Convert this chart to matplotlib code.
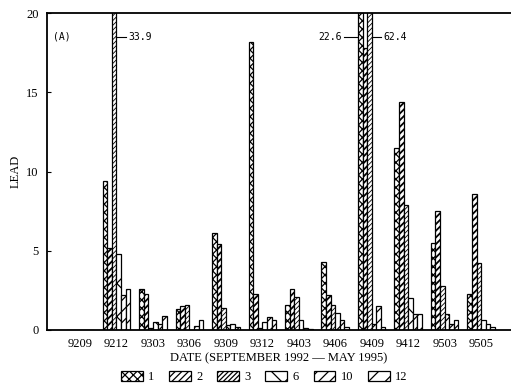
import matplotlib
matplotlib.use("Agg")
import matplotlib.pyplot as plt
import numpy as np

# Sampling dates (YYMM) and lead values per sampling-site series
dates = ["9209", "9212", "9303", "9306", "9309", "9312",
         "9403", "9406", "9409", "9412", "9503", "9505"]
series_names = ["1", "2", "3", "6", "10", "12"]
lead_1 = [0, 9.4, 2.6, 1.3, 6.1, 18.2, 1.6, 4.3, 22.6, 11.5, 5.5, 2.3]
lead_2 = [0, 5.2, 2.3, 1.5, 5.4, 2.3, 2.6, 2.2, 17.8, 14.4, 7.5, 8.6]
lead_3 = [0, 33.9, 0.1, 1.6, 1.4, 0.1, 2.1, 1.6, 62.4, 7.9, 2.8, 4.2]
lead_6 = [0, 4.8, 0.5, 0.0, 0.3, 0.5, 0.6, 1.1, 0.4, 2.0, 1.0, 0.6]
lead_10 = [0, 2.2, 0.4, 0.25, 0.4, 0.8, 0.1, 0.6, 1.5, 1.0, 0.4, 0.4]
lead_12 = [0, 2.6, 0.9, 0.6, 0.2, 0.6, 0.05, 0.2, 0.2, 1.0, 0.6, 0.2]
all_series = [lead_1, lead_2, lead_3, lead_6, lead_10, lead_12]

hatches = ["xxxx", "/////", "///////", "x", "///", "//"]
hatch_widths = [0.9, 1.3, 0.6, 0.9, 0.9, 0.9]

serif = "Liberation Serif"
mono = "DejaVu Sans Mono"

fig = plt.figure(figsize=(5.11, 3.89), dpi=100)
ax = fig.add_axes([47 / 511, 1 - 330 / 389, 1 - 47 / 511, (330 - 13) / 389])

x = np.arange(len(dates))
w = 0.126
bars = []
for k, (vals, h, hw) in enumerate(zip(all_series, hatches, hatch_widths)):
    plt.rcParams["hatch.linewidth"] = hw
    b = ax.bar(x + (k - 2.5) * w, vals, width=w, facecolor="white",
               edgecolor="black", linewidth=0.9, hatch=h, label=series_names[k])
    for p in b:
        if hasattr(p, "set_hatch_linewidth"):
            p.set_hatch_linewidth(hw)
    bars.append(b)

ax.set_xlim(-0.905, 11.82)
ax.set_ylim(0, 20)
ax.set_yticks([0, 5, 10, 15, 20])
ax.set_yticklabels(["0", "5", "10", "15", "20"], fontfamily=serif, fontsize=9)
ax.set_xticks(x)
ax.set_xticklabels(dates, fontfamily=serif, fontsize=9)
ax.tick_params(axis="y", direction="in", length=3, width=0.8, pad=6)
ax.tick_params(axis="x", length=0, pad=6)
ax.spines["right"].set_visible(False)
for s in ["left", "top", "bottom"]:
    ax.spines[s].set_linewidth(1.3)

ax.set_ylabel("LEAD", fontfamily=serif, fontsize=9, labelpad=3)
ax.set_xlabel("DATE (SEPTEMBER 1992 \u2014 MAY 1995)", fontfamily=serif,
              fontsize=9, labelpad=1.5)

ax.text(0.012, 0.915, "(A)", transform=ax.transAxes, fontfamily=mono, fontsize=7)

# Values of bars running off the top of the scale
ly = 18.5
def right_label(i, k, val):
    xr = x[i] + (k - 2.5) * w + w / 2
    ax.plot([xr, xr + 0.25], [ly, ly], color="black", lw=0.8, clip_on=False)
    ax.text(xr + 0.32, ly, f"{val}", fontfamily=mono, fontsize=7, va="center")

def left_label(i, k, val):
    xl = x[i] + (k - 2.5) * w - w / 2
    ax.plot([xl - 0.38, xl - 0.03], [ly, ly], color="black", lw=0.8, clip_on=False)
    ax.text(xl - 0.43, ly, f"{val}", fontfamily=mono, fontsize=7, va="center", ha="right")

right_label(1, 2, lead_3[1])
left_label(8, 0, lead_1[8])
right_label(8, 2, lead_3[8])

leg = fig.legend(handles=bars, labels=series_names, ncol=6, loc="center",
                 bbox_to_anchor=(0.517, 0.031), frameon=False,
                 prop={"family": serif, "size": 9}, handlelength=1.75,
                 handleheight=0.9, handletextpad=0.4, columnspacing=1.2)

fig.savefig("out.png", dpi=100)
